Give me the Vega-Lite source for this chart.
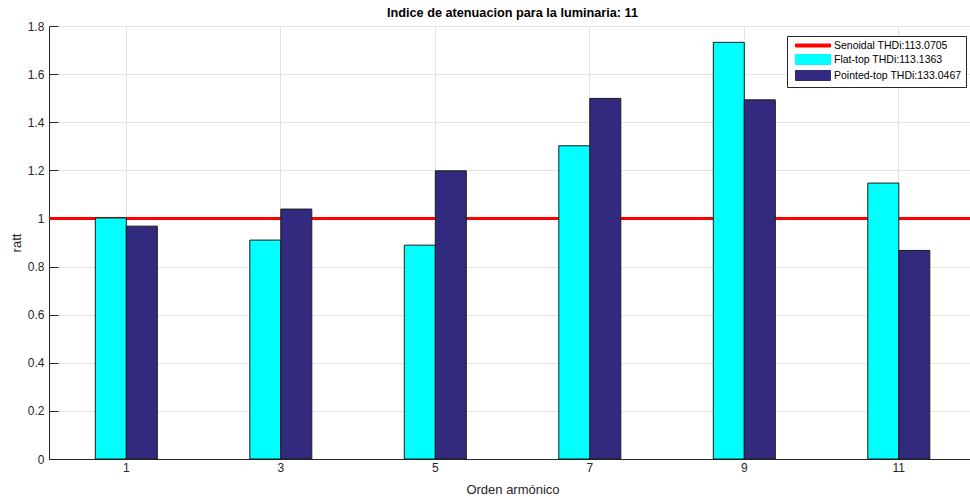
{
  "$schema": "https://vega.github.io/schema/vega-lite/v6.json",
  "width": 927,
  "height": 433,
  "autosize": {"type": "none"},
  "padding": {"left": 49, "top": 26, "right": -6, "bottom": 39},
  "background": "white",
  "config": {
    "font": "Liberation Sans",
    "view": {"stroke": null},
    "axis": {
      "labelFont": "Liberation Sans",
      "titleFont": "Liberation Sans",
      "labelColor": "#262626",
      "titleColor": "#262626",
      "domainColor": "#262626",
      "tickColor": "#262626",
      "gridColor": "#e3e3e3",
      "labelFontSize": 12,
      "titleFontSize": 13,
      "titleFontWeight": "normal"
    },
    "legend": {
      "title": null,
      "orient": "none",
      "legendX": 738,
      "legendY": 10,
      "padding": 4,
      "strokeColor": "#262626",
      "fillColor": "white",
      "labelFont": "Liberation Sans",
      "labelFontSize": 10.5,
      "labelColor": "#000000",
      "symbolType": "M-3.5,-1H3.5V1H-3.5Z",
      "symbolSize": 100,
      "symbolOffset": 16.5,
      "labelOffset": 15.5,
      "symbolStrokeColor": "#1a1a1a",
      "symbolStrokeWidth": 1,
      "symbolOpacity": 1,
      "rowPadding": 1,
      "cornerRadius": 0
    }
  },
  "title": {
    "text": "Indice de atenuacion para la luminaria: 11",
    "fontSize": 12.7,
    "fontWeight": "bold",
    "font": "Liberation Sans",
    "color": "#000000",
    "offset": 0
  },
  "datasets": {
    "barras": [
      {"orden": 1, "serie": "Flat-top THDi:113.1363", "valor": 1.002},
      {"orden": 1, "serie": "Pointed-top THDi:133.0467", "valor": 0.968},
      {"orden": 3, "serie": "Flat-top THDi:113.1363", "valor": 0.910},
      {"orden": 3, "serie": "Pointed-top THDi:133.0467", "valor": 1.039},
      {"orden": 5, "serie": "Flat-top THDi:113.1363", "valor": 0.889},
      {"orden": 5, "serie": "Pointed-top THDi:133.0467", "valor": 1.198},
      {"orden": 7, "serie": "Flat-top THDi:113.1363", "valor": 1.302},
      {"orden": 7, "serie": "Pointed-top THDi:133.0467", "valor": 1.499},
      {"orden": 9, "serie": "Flat-top THDi:113.1363", "valor": 1.732},
      {"orden": 9, "serie": "Pointed-top THDi:133.0467", "valor": 1.493},
      {"orden": 11, "serie": "Flat-top THDi:113.1363", "valor": 1.147},
      {"orden": 11, "serie": "Pointed-top THDi:133.0467", "valor": 0.867}
    ],
    "referencia": [
      {"serie": "Senoidal THDi:113.0705", "valor": 1}
    ]
  },
  "layer": [
    {
      "data": {"name": "referencia"},
      "mark": {"type": "rule", "strokeWidth": 3},
      "encoding": {
        "y": {"field": "valor", "type": "quantitative"},
        "color": {
          "field": "serie",
          "type": "nominal",
          "legend": {
            "encode": {
              "symbols": {
                "update": {
                  "shape": {"signal": "datum.value === 'Senoidal THDi:113.0705' ? 'M-3.5,-0.3H3.5V0.3H-3.5Z' : 'M-3.5,-1H3.5V1H-3.5Z'"},
                  "stroke": {"signal": "datum.value === 'Senoidal THDi:113.0705' ? 'transparent' : '#1a1a1a'"},
                  "fill": {"scale": "color", "field": "value"},
                  "strokeWidth": {"value": 1},
                  "opacity": {"value": 1}
                }
              }
            }
          }
        }
      }
    },
    {
      "data": {"name": "barras"},
      "mark": {"type": "bar", "stroke": "#1a1a1a", "strokeWidth": 1, "opacity": 1},
      "encoding": {
        "x": {
          "field": "orden",
          "type": "ordinal",
          "sort": "ascending",
          "scale": {"paddingInner": 0, "paddingOuter": 0},
          "axis": {
            "title": "Orden armónico",
            "labelAngle": 0,
            "grid": true,
            "tickSize": -9,
            "labelPadding": 12,
            "titlePadding": 10
          }
        },
        "xOffset": {
          "field": "serie",
          "type": "nominal",
          "sort": ["Flat-top THDi:113.1363", "Pointed-top THDi:133.0467"],
          "scale": {"range": [46.3, 108.3]}
        },
        "y": {
          "field": "valor",
          "type": "quantitative",
          "scale": {"domain": [0, 1.8], "nice": false, "zero": true},
          "axis": {
            "title": "ratt",
            "values": [0, 0.2, 0.4, 0.6, 0.8, 1, 1.2, 1.4, 1.6, 1.8],
            "format": "~g",
            "grid": true,
            "tickSize": -9,
            "labelPadding": 14,
            "titlePadding": 4
          }
        },
        "color": {
          "field": "serie",
          "type": "nominal",
          "scale": {
            "domain": ["Senoidal THDi:113.0705", "Flat-top THDi:113.1363", "Pointed-top THDi:133.0467"],
            "range": ["#ff0000", "#00ffff", "#312a7e"]
          },
          "legend": {
            "encode": {
              "symbols": {
                "update": {
                  "shape": {"signal": "datum.value === 'Senoidal THDi:113.0705' ? 'M-3.5,-0.3H3.5V0.3H-3.5Z' : 'M-3.5,-1H3.5V1H-3.5Z'"},
                  "stroke": {"signal": "datum.value === 'Senoidal THDi:113.0705' ? 'transparent' : '#1a1a1a'"},
                  "fill": {"scale": "color", "field": "value"},
                  "strokeWidth": {"value": 1},
                  "opacity": {"value": 1}
                }
              }
            }
          }
        }
      }
    }
  ]
}
